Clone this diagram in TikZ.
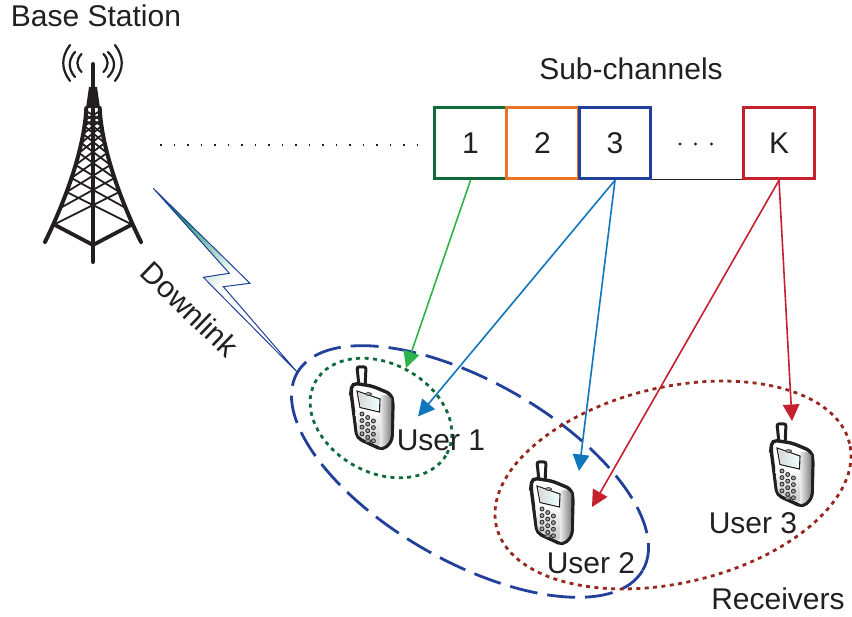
\documentclass[tikz,border=0pt]{standalone}
\usepackage{fontspec}
\setmainfont{Liberation Sans}
\usetikzlibrary{arrows.meta}
\definecolor{cgreen}{HTML}{0F6B3A}
\definecolor{corange}{HTML}{E97425}
\definecolor{cblue}{HTML}{21409A}
\definecolor{cred}{HTML}{C4202E}
\definecolor{agreen}{HTML}{2DB34A}
\definecolor{ablue}{HTML}{0F75BC}
\definecolor{dred}{HTML}{96281F}
\definecolor{ink}{HTML}{231F20}
\tikzset{
  txt/.style={font=\fontsize{30}{32}\selectfont,text=ink,inner sep=0pt},
  chanbox/.style={draw=#1,line width=3pt,minimum width=71.5pt,minimum height=71.5pt,inner sep=0pt,font=\fontsize{30}{32}\selectfont,text=ink},
  chanarrow/.style={draw=#1,line width=1.6pt,-{Triangle[length=16.5pt,width=16.5pt,fill=#1]}},
  cell/.style={dash pattern=on 4pt off 4.4pt},
  phone/.pic={
    \draw[ink,line width=3pt,fill=white,rounded corners=2pt] (359,386)--(357,367)--(366,367)--(365,388);
    \draw[ink,line width=3.4pt,fill=white,rounded corners=5pt]
      (352,383)--(372,386)--(391,394)--(393,402)--(392,441)--(383,450)--(357,438)--(351,392)--cycle;
    \shade[left color=white,right color=black!50,rounded corners=4pt]
      (380,394)--(391,396)--(391.5,402)--(390.5,440)--(383,448)--(378,446)--cycle;
    \shade[top color=white,bottom color=black!22,rounded corners=3pt] (355,410)--(380,416)--(380,446)--(358,436)--cycle;
    \draw[ink,line width=1.1pt] (357,391)--(380,399)--(379.5,412)--(360,407.5)--cycle;
    \shade[left color=black!15,right color=cyan!8!white] (358.5,392.5)--(379,400)--(378.5,411)--(361,406.5)--cycle;
    \foreach \r in {0,1,2,3}\foreach \c in {0,1,2}
      \draw[black!80,fill=black!35,line width=.9pt] ({362+5.7*\c},{414+6.6*\r+3.5*\c}) circle (2pt);
    \draw[black!80,fill=black!35,line width=.7pt] (368.5,394) ellipse (3pt and 1.4pt);
    \draw[black!80,fill=black!35,line width=.7pt] (368,441) ellipse (3pt and 1.4pt);
  },
}
\begin{document}
\begin{tikzpicture}[x=1pt,y=-1pt,declare function={tw(\y)=6.7+41.3*((\y-107)/135)^1.6;}]
\useasboundingbox (0,0) rectangle (852,617);
% tower
\draw[ink,line width=4pt,line cap=round] (93,64)--(93,262);
\fill[ink] (89,87)--(97,87)--(100,108)--(86,108)--cycle;
\draw[ink,line width=4pt,line cap=round,domain=108:242,samples=25,variable=\t] plot ({93-tw(\t)},{\t});
\draw[ink,line width=4pt,line cap=round,domain=108:242,samples=25,variable=\t] plot ({93+tw(\t)},{\t});
\draw[ink,line width=3.8pt] (55,225)--(93,245)--(131,225);
\foreach \a/\b in {225/192,208/178,192/165,178/153,165/143,153/134,143/126,134/120,126/115,120/111}{
  \pgfmathsetmacro\wa{tw(\a)}
  \pgfmathsetmacro\wb{tw(\b)}
  \draw[ink,line width=1.8pt] (93-\wa,\a)--(93+\wb,\b);
  \draw[ink,line width=1.8pt] (93+\wa,\a)--(93-\wb,\b);
}
% waves
\begin{scope}[ink,line width=2.2pt,line cap=round]
\draw (70,45) .. controls (61,57) and (61,69) .. (70,81);
\draw (75,52) .. controls (68,60) and (68,69) .. (75,77);
\draw (81.5,54) .. controls (76,60) and (76,66) .. (81.5,72);
\draw (115,45) .. controls (124,57) and (124,69) .. (115,81);
\draw (108,52) .. controls (116,60) and (116,69) .. (108,77);
\draw (103.5,54) .. controls (109,60) and (109,66) .. (103.5,72);
\end{scope}
% dotted link
\coordinate (linkA) at (160,145);
\coordinate (linkB) at (418,145);
\draw[ink,line width=1.6pt,dash pattern=on 1.6pt off 11.9pt] (linkA)--(linkB);
% lightning
\shade[top color=cgreen!80!cyan,bottom color=white,middle color=white,shading angle=45,draw=cblue,line width=1pt,line join=miter]
  (153.3,188.3)--(250,283.3)--(223.3,286.7)--(297.3,372.3)--(203.3,277.3)--(229.3,273.3)--cycle;
% ellipses
\draw[cblue,line width=2.8pt,dash pattern=on 28pt off 10pt,rotate around={-29.7:(470,471.5)}] (470,471.5) ellipse [x radius=199pt,y radius=90pt];
\draw[cgreen,line width=2.8pt,cell,rotate around={-28.5:(381,418)}] (381,418) ellipse [x radius=75pt,y radius=54.5pt];
\draw[dred,line width=2.8pt,cell,rotate around={13.2:(673,485)}] (673,485) ellipse [x radius=181.4pt,y radius=97.9pt];
% phones
\pic at (0,0) {phone};
\pic at (180,95) {phone};
\pic at (420,57) {phone};
% sub-channels
\draw[ink,line width=1.4pt] (651,179.3)--(743,179.3);
\node[chanbox=cgreen] (b1) at (470.5,143) {1};
\node[chanbox=corange] (b2) at (542.5,143) {2};
\node[chanbox=cblue] (b3) at (615,143) {3};
\node[chanbox=cred] (bK) at (779,143) {K};
\fill[ink] (680,144) circle (1.6pt) (695.5,144) circle (1.6pt) (711.5,144) circle (1.6pt);
% targets
\coordinate (t1) at (406,368);
\coordinate (t2) at (418,416.5);
\coordinate (t3) at (579,471);
\coordinate (t4) at (592,507);
\coordinate (t5) at (792,421);
\draw[chanarrow=agreen] (b1.south)--(t1);
\draw[chanarrow=ablue] (b3.south)--(t2);
\draw[chanarrow=ablue] (b3.south)--(t3);
\draw[chanarrow=cred] (bK.south)--(t4);
\draw[chanarrow=cred] (bK.south)--(t5);
% labels
\node[txt] (base) at (96,16) {Base Station};
\node[txt] (sub) at (631,69) {Sub-channels};
\node[txt,rotate=-44] (down) at (190,309) {Downlink};
\node[txt] (u1) at (441,440) {User 1};
\node[txt] (u2) at (591,563) {User 2};
\node[txt] (u3) at (753,523) {User 3};
\node[txt] (rx) at (778,599) {Receivers};
\end{tikzpicture}
\end{document}
